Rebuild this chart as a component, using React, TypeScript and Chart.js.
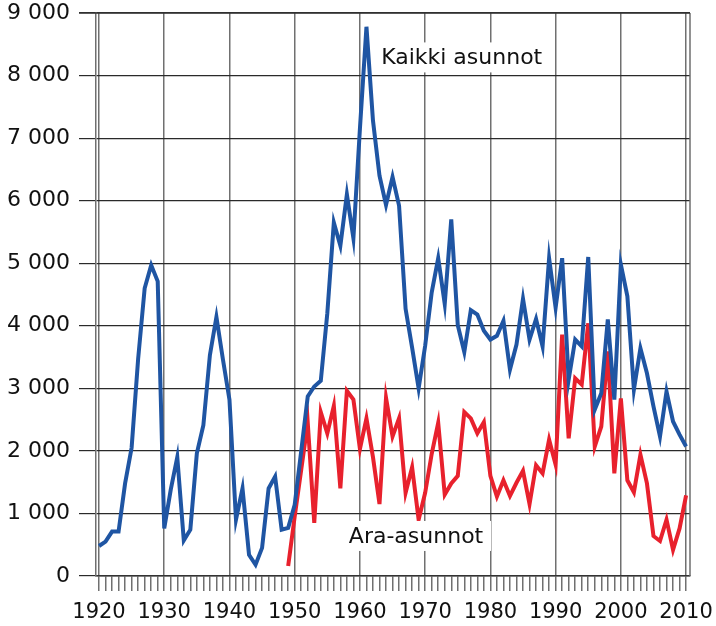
import React, { useEffect, useRef } from "react";
import { Chart, registerables } from "chart.js";

Chart.register(...registerables);

const firstYear = 1920;
const lastYear = 2010;
const redFirstYear = 1949;

const kaikkiAsunnot = [
  // 1920-1929
  480, 550, 710, 710, 1480, 2050, 3470, 4600, 4970, 4710,
  // 1930-1939
  760, 1380, 1900, 570, 740, 1960, 2410, 3530, 4140, 3460,
  // 1940-1949
  2820, 900, 1400, 340, 180, 450, 1400, 1590, 740, 770,
  // 1950-1959
  1140, 2000, 2870, 3030, 3120, 4200, 5650, 5280, 6100, 5400,
  // 1960-1969
  7150, 8780, 7280, 6400, 5930, 6380, 5920, 4270, 3650, 3000,
  // 1970-1979
  3680, 4530, 5080, 4350, 5700, 4010, 3580, 4250, 4180, 3920,
  // 1980-1989
  3780, 3840, 4080, 3300, 3700, 4430, 3780, 4110, 3670, 5080,
  // 1990-1999
  4290, 5080, 3140, 3780, 3670, 5100, 2660, 2920, 4100, 2820,
  // 2000-2010
  4980, 4470, 2980, 3640, 3240, 2710, 2230, 2950, 2470, 2260, 2070,
];

const araAsunnot = [
  // 1949
  160,
  // 1950-1959
  950, 1700, 2450, 850, 2620, 2280, 2720, 1400, 2960, 2820,
  // 1960-1969
  2030, 2520, 1900, 1150, 2850, 2230, 2520, 1330, 1740, 900,
  // 1970-1979
  1330, 1950, 2450, 1300, 1480, 1600, 2620, 2520, 2280, 2460,
  // 1980-1989
  1600, 1270, 1530, 1280, 1490, 1680, 1150, 1770, 1640, 2180,
  // 1990-1999
  1780, 3860, 2200, 3160, 3060, 4040, 2070, 2390, 3590, 1640,
  // 2000-2010
  2840, 1530, 1340, 1940, 1480, 640, 560, 900, 420, 760, 1290,
];

const yTicks = [0, 1000, 2000, 3000, 4000, 5000, 6000, 7000, 8000, 9000];
const yTickLabels = ["0", "1 000", "2 000", "3 000", "4 000", "5 000", "6 000", "7 000", "8 000", "9 000"];

const seriesLabels = ["Kaikki asunnot", "Ara-asunnot"];

const FONT = "'DejaVu Sans', Verdana, sans-serif";

const framePlugin = {
  id: "frameAndLabels",
  beforeDatasetsDraw(chart: any) {
    const { ctx, chartArea } = chart;
    ctx.save();
    ctx.strokeStyle = "#6e6e6e";
    ctx.lineWidth = 1.5;
    ctx.beginPath();
    ctx.moveTo(chartArea.right, chartArea.top);
    ctx.lineTo(chartArea.right, chartArea.bottom);
    ctx.stroke();
    ctx.strokeStyle = "#333";
    ctx.lineWidth = 1.5;
    ctx.beginPath();
    ctx.moveTo(chartArea.left - 17, chartArea.top);
    ctx.lineTo(chartArea.right, chartArea.top);
    ctx.stroke();
    ctx.restore();
  },
  afterDatasetsDraw(chart: any) {
    const { ctx } = chart;
    const xs = chart.scales.x;
    const ys = chart.scales.y;
    const boxes = [
      { text: seriesLabels[0], x: 1975.6, y: 8290, w: 174, h: 30 },
      { text: seriesLabels[1], x: 1968.6, y: 640, w: 150, h: 30 },
    ];
    ctx.save();
    ctx.font = `22px ${FONT}`;
    ctx.textAlign = "center";
    ctx.textBaseline = "middle";
    for (const b of boxes) {
      const px = xs.getPixelForValue(b.x);
      const py = ys.getPixelForValue(b.y);
      ctx.fillStyle = "#ffffff";
      ctx.fillRect(px - b.w / 2, py - b.h / 2, b.w, b.h);
      ctx.fillStyle = "#111";
      ctx.fillText(b.text, px, py + 1);
    }
    ctx.restore();
  },
};

export default function App() {
  const canvasRef = useRef<HTMLCanvasElement | null>(null);

  useEffect(() => {
    if (!canvasRef.current) return;
    const blueData = kaikkiAsunnot.map((v, i) => ({ x: firstYear + i, y: v }));
    const redData = araAsunnot.map((v, i) => ({ x: redFirstYear + i, y: v }));
    const yearTicks: number[] = [];
    for (let y = firstYear; y <= lastYear; y++) yearTicks.push(y);

    const chart = new Chart(canvasRef.current, {
      type: "line",
      data: {
        datasets: [
          {
            label: seriesLabels[0],
            data: blueData,
            borderColor: "#1f55a3",
            borderWidth: 4,
            pointRadius: 0,
            tension: 0,
            borderJoinStyle: "miter",
            fill: false,
          },
          {
            label: seriesLabels[1],
            data: redData,
            borderColor: "#e8212d",
            borderWidth: 4,
            pointRadius: 0,
            tension: 0,
            borderJoinStyle: "miter",
            fill: false,
          },
        ],
      },
      options: {
        animation: false,
        responsive: false,
        devicePixelRatio: 1,
        layout: { padding: { left: 0, top: 13, right: 26, bottom: 0 } },
        plugins: {
          legend: { display: false },
          tooltip: { enabled: false },
        },
        scales: {
          x: {
            type: "linear",
            min: 1919.54,
            max: 2010.6,
            afterBuildTicks: (scale: any) => {
              scale.ticks = yearTicks.map((v) => ({ value: v }));
            },
            afterFit: (scale: any) => {
              scale.height = 50;
              scale.paddingLeft = 0;
              scale.paddingRight = 0;
            },
            ticks: {
              autoSkip: false,
              maxRotation: 0,
              minRotation: 0,
              padding: 9,
              color: "#111",
              font: { family: FONT, size: 21 },
              callback: (v: any) => (Number(v) % 10 === 0 ? String(v) : ""),
            },
            grid: {
              color: (c: any) =>
                c.tick && c.tick.value % 10 === 0 ? "#707070" : "rgba(0,0,0,0)",
              lineWidth: 1.5,
              tickColor: "#707070",
              tickLength: 15,
              tickWidth: 1.5,
            },
            border: { display: true, color: "#333", width: 1.5 },
          },
          y: {
            type: "linear",
            min: 0,
            max: 9000,
            afterBuildTicks: (scale: any) => {
              scale.ticks = yTicks.map((v) => ({ value: v }));
            },
            afterFit: (scale: any) => {
              scale.width = 96;
              scale.paddingTop = 0;
              scale.paddingBottom = 0;
            },
            ticks: {
              padding: 9,
              color: "#111",
              font: { family: FONT, size: 22 },
              callback: (v: any) => {
                const i = yTicks.indexOf(Number(v));
                return i >= 0 ? yTickLabels[i] : "";
              },
            },
            grid: {
              color: "#2a2a2a",
              lineWidth: 1.2,
              tickColor: "#2a2a2a",
              tickLength: 17,
              tickWidth: 1.2,
            },
            border: { display: true, color: "#707070", width: 1.5 },
          },
        },
      },
      plugins: [framePlugin],
    });
    return () => chart.destroy();
  }, []);

  return (
    <div style={{ position: "absolute", left: 0, top: 0, width: 716, height: 626, background: "#fff" }}>
      <canvas ref={canvasRef} width={716} height={626} style={{ display: "block", width: 716, height: 626 }} />
    </div>
  );
}
